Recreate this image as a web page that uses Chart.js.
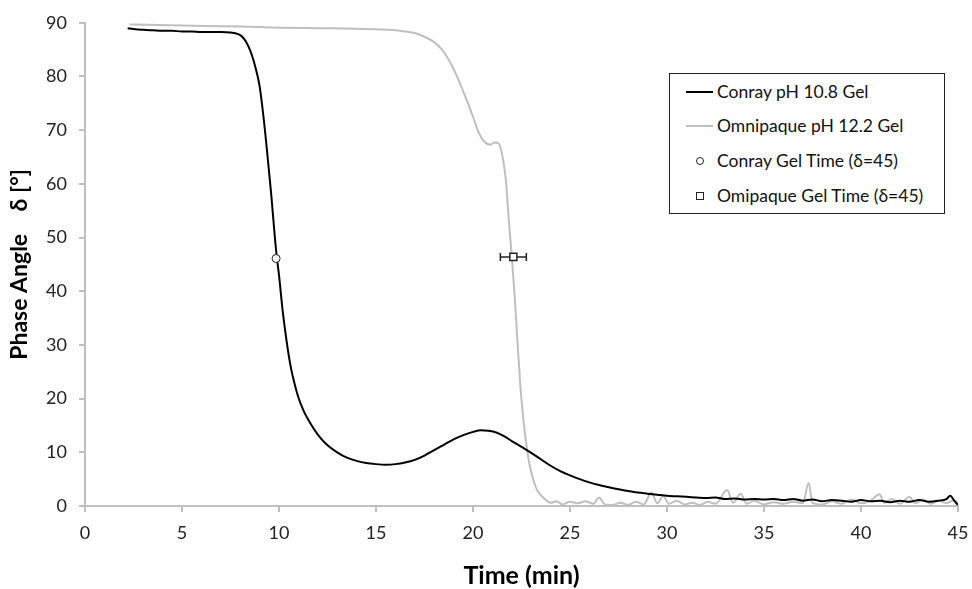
<!DOCTYPE html>
<html>
<head>
<meta charset="utf-8">
<script src="https://cdn.jsdelivr.net/npm/chart.js@4/dist/chart.umd.min.js"></script>
<style>
  body { margin: 0; background: #fff; }
  #wrap { position: relative; width: 972px; height: 589px; }
  #legend {
    position: absolute; left: 669px; top: 73px; width: 274px; height: 139px;
    border: 1px solid #222; background: #fff;
    font-family: Lato, "Open Sans", sans-serif; font-size: 17.5px; color: #111;
  }
  .row { position: absolute; left: 0; height: 20px; line-height: 20px; white-space: nowrap; }
  .sw { display: inline-block; width: 30px; height: 20px; vertical-align: top; position: relative; margin-left: 16px; margin-right: 1px; }
  .ln { position: absolute; left: 0; right: 3px; top: 9px; height: 2px; }
  .mk { position: absolute; left: 10px; top: 6px; width: 6px; height: 6px; border: 1px solid #222; background: #fff; }
</style>
</head>
<body>
<div id="wrap">
  <canvas id="chart" width="972" height="589"></canvas>
  <div id="legend">
    <div class="row" style="top:8px"><span class="sw"><span class="ln" style="background:#000"></span></span>Conray pH 10.8 Gel</div>
    <div class="row" style="top:42px"><span class="sw"><span class="ln" style="background:#bfbfbf"></span></span>Omnipaque pH 12.2 Gel</div>
    <div class="row" style="top:77px"><span class="sw"><span class="mk" style="border-radius:50%"></span></span>Conray Gel Time (δ=45)</div>
    <div class="row" style="top:112px"><span class="sw"><span class="mk"></span></span>Omipaque Gel Time (δ=45)</div>
  </div>
</div>
<script>
// Conray pH 10.8 Gel
const conrayTime = [2.2, 2.6, 3.0, 3.5, 4.0, 4.5, 5.0, 5.5, 6.0, 6.5, 7.0, 7.5, 7.8, 8.0, 8.2, 8.4, 8.6, 8.8, 9.0, 9.2, 9.4, 9.6, 9.8, 9.9, 10.0, 10.2, 10.4, 10.6, 10.8, 11.0, 11.3, 11.6, 12.0, 12.5, 13.0, 13.5, 14.0, 14.5, 15.0, 15.5, 16.0, 16.5, 17.0, 17.5, 18.0, 18.5, 19.0, 19.5, 20.0, 20.4, 20.8, 21.2, 21.6, 22.0, 22.5, 23.0, 23.5, 24.0, 24.5, 25.0, 25.5, 26.0, 26.5, 27.0, 27.5, 28.0, 28.5, 29.0, 29.5, 30.0, 30.5, 31.0, 31.5, 32.0, 32.5, 33.0, 33.5, 34.0, 34.5, 35.0, 35.5, 36.0, 36.5, 37.0, 37.5, 38.0, 38.5, 39.0, 39.5, 40.0, 40.5, 41.0, 41.5, 42.0, 42.5, 43.0, 43.5, 44.0, 44.4, 44.6, 44.8, 45.0];
const conrayPhase = [89.0, 88.8, 88.7, 88.6, 88.5, 88.5, 88.4, 88.4, 88.3, 88.3, 88.3, 88.2, 88.0, 87.7, 87.0, 85.8, 84.0, 81.5, 78.2, 72.5, 65.5, 58.0, 49.5, 46.0, 43.0, 36.0, 30.5, 26.0, 22.8, 20.2, 17.5, 15.5, 13.3, 11.3, 10.0, 9.0, 8.4, 8.0, 7.8, 7.7, 7.8, 8.1, 8.6, 9.4, 10.4, 11.4, 12.4, 13.2, 13.8, 14.1, 14.0, 13.7, 13.0, 12.1, 11.0, 9.9, 8.7, 7.5, 6.5, 5.7, 5.0, 4.4, 3.9, 3.5, 3.1, 2.8, 2.5, 2.3, 2.1, 1.9, 1.8, 1.7, 1.6, 1.5, 1.6, 1.3, 1.4, 1.2, 1.3, 1.2, 1.3, 1.1, 1.3, 1.0, 1.2, 0.9, 1.1, 1.0, 0.8, 1.1, 0.9, 1.0, 0.7, 1.0, 0.8, 1.1, 0.8, 1.0, 1.3, 1.9, 1.0, 0.2];

// Omnipaque pH 12.2 Gel
const omniTime = [2.3, 5.0, 8.0, 10.0, 12.0, 14.0, 15.0, 16.0, 16.5, 17.0, 17.5, 18.0, 18.4, 18.8, 19.2, 19.6, 20.0, 20.3, 20.6, 20.9, 21.1, 21.3, 21.5, 21.7, 21.85, 22.0, 22.15, 22.3, 22.45, 22.6, 22.75, 22.9, 23.1, 23.3, 23.5, 23.8, 24.0, 24.3, 24.6, 25.0, 25.4, 25.8, 26.2, 26.5, 26.8, 27.2, 27.6, 28.0, 28.4, 28.8, 29.2, 29.5, 29.8, 30.1, 30.5, 30.9, 31.3, 31.7, 32.1, 32.5, 33.1, 33.4, 33.8, 34.1, 34.5, 35.0, 35.5, 36.0, 36.5, 37.0, 37.3, 37.5, 38.0, 38.5, 39.0, 39.5, 40.0, 40.5, 40.95, 41.2, 41.6, 42.0, 42.5, 42.8, 43.2, 43.6, 44.0, 44.4, 44.8, 45.0];
const omniPhase = [89.7, 89.5, 89.3, 89.1, 89.0, 88.9, 88.8, 88.6, 88.4, 88.1, 87.4, 86.4, 85.0, 82.8, 79.8, 76.3, 72.5, 69.5, 67.8, 67.3, 67.7, 67.6, 65.5, 60.5, 53.0, 46.5, 39.0, 30.0, 22.0, 16.0, 11.5, 8.0, 5.0, 3.0, 2.0, 1.0, 0.6, 0.9, 0.3, 0.8, 0.5, 0.9, 0.4, 1.6, 0.3, 0.2, 0.6, 0.2, 0.8, 0.3, 2.5, 0.5, 1.9, 0.4, 1.0, 0.3, 0.6, 0.2, 0.8, 0.4, 3.0, 0.6, 2.3, 0.4, 1.0, 0.3, 0.7, 0.4, 0.8, 0.5, 4.3, 0.6, 0.3, 0.9, 0.4, 1.2, 0.5, 1.0, 2.2, 0.6, 1.3, 0.4, 1.7, 0.5, 1.2, 0.4, 1.0, 0.5, 1.1, 0.3];

// gel times at delta = 45
const conrayGel = [{ x: 9.85, y: 46.1 }];
const omniGel = [{ x: 22.08, y: 46.4 }];
const omniGelErr = [0.67];

const xTicks = [0, 5, 10, 15, 20, 25, 30, 35, 40, 45];
const yTicks = [0, 10, 20, 30, 40, 50, 60, 70, 80, 90];

const toPoints = (xs, ys) => xs.map((x, i) => ({ x: x, y: ys[i] }));

// horizontal error bar drawn under the square marker
const errorBars = {
  id: "errorBars",
  beforeDatasetDraw(chart, args) {
    const ds = chart.data.datasets[args.index];
    if (!ds.xErr) return;
    const ctx = chart.ctx;
    const xs = chart.scales.x, ys = chart.scales.y;
    ctx.save();
    ctx.strokeStyle = "#222";
    ctx.lineWidth = 1.5;
    ds.data.forEach((p, i) => {
      const y = ys.getPixelForValue(p.y);
      const x0 = xs.getPixelForValue(p.x - ds.xErr[i]);
      const x1 = xs.getPixelForValue(p.x + ds.xErr[i]);
      ctx.beginPath();
      ctx.moveTo(x0, y); ctx.lineTo(x1, y);
      ctx.moveTo(x0, y - 4); ctx.lineTo(x0, y + 4);
      ctx.moveTo(x1, y - 4); ctx.lineTo(x1, y + 4);
      ctx.stroke();
    });
    ctx.restore();
  }
};

const axisColor = "#bfbfbf";
const tickFont = { family: "Lato, 'Open Sans', sans-serif", size: 18 };
const xTitleFont = { family: "Lato, 'Open Sans', sans-serif", size: 25, weight: "bold" };
const yTitleFont = { family: "Lato, 'Open Sans', sans-serif", size: 23, weight: "bold" };

new Chart(document.getElementById("chart"), {
  type: "line",
  data: {
    datasets: [
      {
        label: "Conray Gel Time (δ=45)",
        data: conrayGel,
        showLine: false,
        pointStyle: "circle",
        pointRadius: 4,
        pointBackgroundColor: "#fff",
        pointBorderColor: "#222",
        pointBorderWidth: 1,
        order: 0
      },
      {
        label: "Omipaque Gel Time (δ=45)",
        data: omniGel,
        xErr: omniGelErr,
        showLine: false,
        pointStyle: "rect",
        pointRadius: 5,
        pointBackgroundColor: "#fff",
        pointBorderColor: "#222",
        pointBorderWidth: 1.5,
        order: 1
      },
      {
        label: "Conray pH 10.8 Gel",
        data: toPoints(conrayTime, conrayPhase),
        borderColor: "#000",
        borderWidth: 2,
        pointRadius: 0,
        cubicInterpolationMode: "monotone",
        order: 2
      },
      {
        label: "Omnipaque pH 12.2 Gel",
        data: toPoints(omniTime, omniPhase),
        borderColor: "#bfbfbf",
        borderWidth: 2,
        pointRadius: 0,
        cubicInterpolationMode: "monotone",
        order: 3
      }
    ]
  },
  options: {
    responsive: false,
    animation: false,
    layout: { padding: { top: 17, right: 14, left: 0, bottom: 0 } },
    plugins: { legend: { display: false }, tooltip: { enabled: false } },
    scales: {
      x: {
        type: "linear",
        min: 0,
        max: 45,
        afterBuildTicks: (s) => { s.ticks = xTicks.map((v) => ({ value: v })); },
        afterFit: (s) => { s.height = 83; s.paddingRight = 0; s.paddingLeft = 0; },
        grid: { drawOnChartArea: false, drawTicks: true, tickLength: 6, color: axisColor, lineWidth: 2 },
        border: { color: axisColor, width: 2 },
        ticks: { color: "#222", font: tickFont, padding: 10 },
        title: { display: true, text: "Time (min)", color: "#000", font: xTitleFont, padding: { top: 0, bottom: -2 } }
      },
      y: {
        min: 0,
        max: 90,
        afterBuildTicks: (s) => { s.ticks = yTicks.map((v) => ({ value: v })); },
        afterFit: (s) => { s.width = 85; },
        grid: { drawOnChartArea: false, drawTicks: true, tickLength: 6, color: axisColor, lineWidth: 2 },
        border: { color: axisColor, width: 2 },
        ticks: { color: "#222", font: tickFont, padding: 12 },
        title: { display: true, text: "Phase Angle    δ [°]", color: "#000", font: yTitleFont, padding: { top: 6, bottom: 0 } }
      }
    }
  },
  plugins: [errorBars]
});
</script>
</body>
</html>
